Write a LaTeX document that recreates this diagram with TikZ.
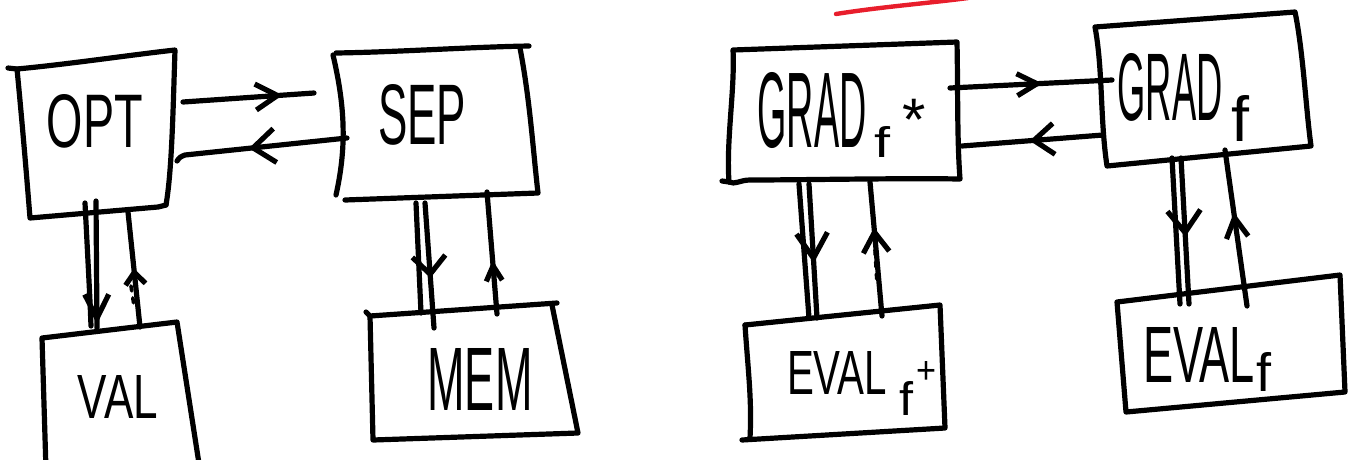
\documentclass[tikz,border=0pt]{standalone}
\usepackage{fontspec}
\setmainfont{Liberation Sans}
\usepackage{graphicx}
\usetikzlibrary{arrows.meta,decorations.markings}

% text squeezed into a given width and height (in pt)
\newcommand{\fitbox}[3]{\resizebox{#1pt}{#2pt}{#3}}

\definecolor{penred}{RGB}{232,30,44}

\tikzset{
  ink/.style={line width=5.2pt, line cap=round, line join=round},
  word/.style={inner sep=0pt, outer sep=0pt},
  chev/.style n args={3}{postaction={decorate, decoration={markings,
      mark=at position #1 with {\arrow{Straight Barb[length=#2pt, width=#3pt]}}}}},
  dashbits/.style={line width=3.6pt, line cap=round, dash pattern=on 5pt off 7pt},
}

\begin{document}
\begin{tikzpicture}[x=1pt, y=-1pt]
\useasboundingbox (0,0) rectangle (1354,459);

% ---------- OPT ----------
\coordinate (opt-nw) at (17,69);
\coordinate (opt-ne) at (175,50);
\coordinate (opt-se) at (166,205);
\coordinate (opt-sw) at (30,218);
\draw[ink] (8,68) -- (opt-nw) .. controls (70,64) and (130,55) .. (opt-ne)
  .. controls (173,110) and (172,170) .. (opt-se);
\draw[ink] (opt-nw) .. controls (22,120) and (27,180) .. (opt-sw) -- (158,207) -- (opt-se);
\node[word] (opt) at (95,121) {\fitbox{96}{53}{OPT}};

% ---------- SEP ----------
\coordinate (sep-nw) at (336,53);
\coordinate (sep-ne) at (529,46);
\coordinate (sep-se) at (538,193);
\coordinate (sep-sw) at (345,200);
\draw[ink] (sep-nw) .. controls (400,52) and (470,47) .. (sep-ne);
\draw[ink] (520,48) .. controls (530,100) and (533,150) .. (sep-se) -- (sep-sw);
\draw[ink] (333,55) .. controls (346,110) and (346,150) .. (336,195);
\node[word] (sep) at (422,115) {\fitbox{88}{60}{SEP}};

% ---------- VAL ----------
\coordinate (val-nw) at (42,338);
\coordinate (val-ne) at (177,322);
\draw[ink] (46,470) -- (val-nw) -- (val-ne) -- (200,470);
\node[word] (val) at (118,397) {\fitbox{80}{43}{VAL}};

% ---------- MEM ----------
\coordinate (mem-nw) at (370,316);
\coordinate (mem-ne) at (557,303);
\coordinate (mem-se) at (578,433);
\coordinate (mem-sw) at (373,440);
\draw[ink] (366,312) -- (mem-nw) -- (mem-ne);
\draw[ink] (552,305) -- (mem-se) -- (mem-sw) -- (mem-nw);
\node[word] (mem) at (480,379) {\fitbox{105}{62}{MEM}};

% ---------- GRAD_{f*} ----------
\coordinate (gs-nw) at (733,50);
\coordinate (gs-ne) at (957,42);
\coordinate (gs-se) at (960,179);
\coordinate (gs-sw) at (729,182);
\draw[ink] (gs-nw) -- (gs-ne) .. controls (958,90) and (957,140) .. (gs-se)
  .. controls (900,178) and (800,180) .. (750,180)
  .. controls (740,180) and (735,185) .. (gs-sw)
  .. controls (726,140) and (735,90) .. (gs-nw);
\draw[ink] (722,181) -- (gs-sw);
\node[word] (gs) at (812,110) {\fitbox{109}{75}{GRAD}};
\node[word] (gs-f) at (882,142) {\fitbox{16}{31}{f}};
\node[word, anchor=base] (gs-star) at (914,140) {\fontsize{60}{60}\selectfont *};

% ---------- GRAD_f ----------
\coordinate (gf-nw) at (1095,27);
\coordinate (gf-ne) at (1295,12);
\coordinate (gf-se) at (1311,146);
\coordinate (gf-sw) at (1107,166);
\draw[ink] (gf-nw) -- (gf-ne) .. controls (1303,50) and (1306,110) .. (gf-se)
  -- (gf-sw) .. controls (1100,120) and (1103,70) .. (gf-nw);
\node[word] (gf) at (1170,87) {\fitbox{105}{67}{GRAD}};
\node[word] (gf-f) at (1240,118) {\fitbox{18}{46}{f}};

% ---------- EVAL_{f+} ----------
\coordinate (es-nw) at (745,325);
\coordinate (es-ne) at (940,305);
\coordinate (es-se) at (945,428);
\coordinate (es-sw) at (750,438);
\draw[ink] (es-nw) -- (es-ne) -- (es-se) -- (742,440);
\draw[ink] (es-nw) .. controls (748,370) and (752,400) .. (es-sw);
\node[word] (es) at (837,373) {\fitbox{100}{43}{EVAL}};
\node[word] (es-f) at (906,398) {\fitbox{14}{34}{f}};
\node[word] (es-plus) at (926,372) {\fitbox{20}{22}{+}};

% ---------- EVAL_f ----------
\coordinate (ef-nw) at (1117,302);
\coordinate (ef-ne) at (1340,275);
\coordinate (ef-se) at (1345,392);
\coordinate (ef-sw) at (1126,412);
\draw[ink] (ef-nw) -- (ef-ne) -- (ef-se) -- (ef-sw) -- (ef-nw);
\node[word] (ef) at (1199,355) {\fitbox{112}{55}{EVAL}};
\node[word] (ef-f) at (1264,372) {\fitbox{15}{39}{f}};

% ---------- connector end points ----------
\coordinate (opt-r1) at (183,102);   \coordinate (sep-l1) at (314,93);
\coordinate (sep-l2) at (347,138);   \coordinate (opt-r2) at (177,161);
\coordinate (gs-r1) at (950,88);     \coordinate (gf-l1) at (1112,80);
\coordinate (gf-l2) at (1103,135);   \coordinate (gs-r2) at (962,146);

\coordinate (opt-b1) at (85,203);    \coordinate (val-t1) at (91,326);
\coordinate (opt-b2) at (96,201);    \coordinate (val-t2) at (97,328);
\coordinate (val-t3) at (140,327);   \coordinate (opt-b3) at (128,212);

\coordinate (sep-b1) at (416,203);   \coordinate (mem-t1) at (421,313);
\coordinate (sep-b2) at (425,203);   \coordinate (mem-t2) at (434,328);
\coordinate (mem-t3) at (497,314);   \coordinate (sep-b3) at (487,192);

\coordinate (gs-b1) at (799,184);    \coordinate (es-t1) at (809,318);
\coordinate (gs-b2) at (809,184);    \coordinate (es-t2) at (817,318);
\coordinate (es-t3) at (882,316);    \coordinate (gs-b3) at (870,182);

\coordinate (gf-b1) at (1172,158);   \coordinate (ef-t1) at (1180,304);
\coordinate (gf-b2) at (1181,158);   \coordinate (ef-t2) at (1189,304);
\coordinate (ef-t3) at (1247,306);   \coordinate (gf-b3) at (1225,150);

% ---------- horizontal connectors ----------
\draw[ink, chev={0.76}{22}{26}] (opt-r1) -- (sep-l1);
\draw[ink, chev={0.57}{22}{34}] (sep-l2) -- (185,155) .. controls (180,157) .. (opt-r2);
\draw[ink, chev={0.57}{20}{22}] (gs-r1) -- (gf-l1);
\draw[ink, chev={0.52}{20}{31}] (gf-l2) -- (gs-r2);

% ---------- vertical connectors ----------
% OPT / VAL
\draw[ink] (opt-b1) .. controls (90,300) .. (val-t1);
\draw[ink, chev={0.97}{24}{24}] (opt-b2) -- (val-t2);
\draw[ink, chev={0.51}{12}{20}] (val-t3) -- (opt-b3);
\draw[dashbits] (131,286) -- (134,306);

% SEP / MEM
\draw[ink] (sep-b1) -- (mem-t1);
\draw[ink, chev={0.6}{18}{33}] (sep-b2) -- (mem-t2);
\draw[ink, chev={0.44}{15}{16}] (mem-t3) -- (sep-b3);

% GRAD_{f*} / EVAL_{f+}
\draw[ink] (gs-b1) -- (es-t1);
\draw[ink, chev={0.59}{25}{31}] (gs-b2) -- (es-t2);
\draw[ink, chev={0.66}{20}{26}] (es-t3) -- (gs-b3);
\draw[dashbits] (875,250) -- (877,284);

% GRAD_f / EVAL_f
\draw[ink] (gf-b1) -- (ef-t1);
\draw[ink, chev={0.54}{22}{33}] (gf-b2) -- (ef-t2);
\draw[ink, chev={0.6}{20}{22}] (ef-t3) -- (gf-b3);

% ---------- red pen stroke ----------
\draw[penred, line width=4.4pt, line cap=round] (836,14) .. controls (880,7) and (930,3) .. (968,-2);

\end{tikzpicture}
\end{document}
